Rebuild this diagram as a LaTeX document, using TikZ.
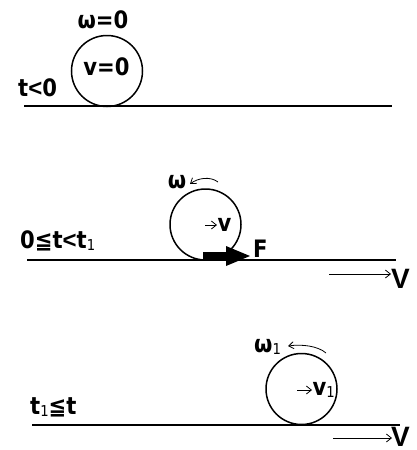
\documentclass[tikz,border=0pt]{standalone}
\usepackage{fontspec}
\setmainfont{DejaVu Sans}[FakeStretch=0.88]
\newfontfamily\lib{Liberation Sans}
\usetikzlibrary{arrows.meta}
\newcommand{\sub}[1]{{\mdseries\fontsize{15}{15}\selectfont\raisebox{-2pt}{#1}}}
\newcommand{\lessch}{{\lib\bfseries <}}
\tikzset{
  ground/.style={line width=2.6pt},
  wheel/.style={circle, draw, line width=1.5pt, minimum size=71pt, inner sep=0pt},
  lbl/.style={font=\fontsize{24}{24}\selectfont\bfseries, inner sep=0pt},
  big/.style={font=\lib\fontsize{28}{28}\selectfont\bfseries, inner sep=0pt},
  thinarrow/.style={line width=0.8pt, -{Straight Barb[length=5pt,width=8pt]}},
  spinarrow/.style={line width=0.8pt, -{Straight Barb[length=5pt,width=7pt]}},
  force/.style={fill=black, draw=none}
}
\begin{document}
\begin{tikzpicture}[x=1pt,y=-1pt]
\useasboundingbox (0,0) rectangle (416,450);

% ---------- panel 1 ----------
\coordinate (g1a) at (24,106);
\coordinate (g1b) at (392,106);
\draw[ground] (g1a) -- (g1b);
\node[wheel] (c1) at (107,71) {};
\node[lbl, anchor=base] (w0) at (103,28) {ω=0};
\node[lbl, anchor=base] (v0) at (106.5,75) {v=0};
\node[lbl, anchor=base west] (t0) at (18,96) {t\lessch0};

% ---------- panel 2 ----------
\coordinate (g2a) at (27,260);
\coordinate (g2b) at (396,260);
\draw[ground] (g2a) -- (g2b);
\node[wheel] (c2) at (205.5,224.5) {};
\node[lbl, anchor=base] (w2) at (177,188) {ω};
\coordinate (s2a) at (218,182);
\coordinate (s2b) at (190,184);
\draw[spinarrow] (s2a) .. controls (210,176) and (198,178) .. (s2b);
\coordinate (a2a) at (205,225);
\coordinate (a2b) at (217,225);
\draw[thinarrow] (a2a) -- (a2b);
\node[lbl, anchor=base west] (v2) at (217.5,231) {v};
\node[lbl, anchor=base west] (t2) at (20,248) {0≦t\lessch t\sub{1}};
% force arrow
\coordinate (f1) at (203,252);
\coordinate (f2) at (226,252);
\coordinate (f3) at (226,246);
\coordinate (f4) at (250,256);
\coordinate (f5) at (226,266);
\coordinate (f6) at (226,260);
\coordinate (f7) at (203,260);
\fill[force] (f1) -- (f2) -- (f3) -- (f4) -- (f5) -- (f6) -- (f7) -- cycle;
\node[lbl, anchor=base west] (F) at (253,257) {F};
\coordinate (V2a) at (329,274);
\coordinate (V2b) at (391,274);
\draw[thinarrow] (V2a) -- (V2b);
\node[big, anchor=base west] (V2) at (391,288) {V};

% ---------- panel 3 ----------
\coordinate (g3a) at (32,425);
\coordinate (g3b) at (400,425);
\draw[ground] (g3a) -- (g3b);
\node[wheel] (c3) at (301.5,389) {};
\node[lbl, anchor=base west] (w3) at (254,352) {ω\sub{1}};
\coordinate (s3a) at (326,353);
\coordinate (s3b) at (288,346);
\draw[spinarrow] (s3a) .. controls (318,346) and (302,344) .. (s3b);
\coordinate (a3a) at (297,390);
\coordinate (a3b) at (312,390);
\draw[thinarrow] (a3a) -- (a3b);
\node[lbl, anchor=base west] (v3) at (312.5,395) {v\sub{1}};
\node[lbl, anchor=base west] (t3) at (30,414) {t\sub{1}≦t};
\coordinate (V3a) at (333,438);
\coordinate (V3b) at (392,438);
\draw[thinarrow] (V3a) -- (V3b);
\node[big, anchor=base west] (V3) at (391,446) {V};
\end{tikzpicture}
\end{document}
